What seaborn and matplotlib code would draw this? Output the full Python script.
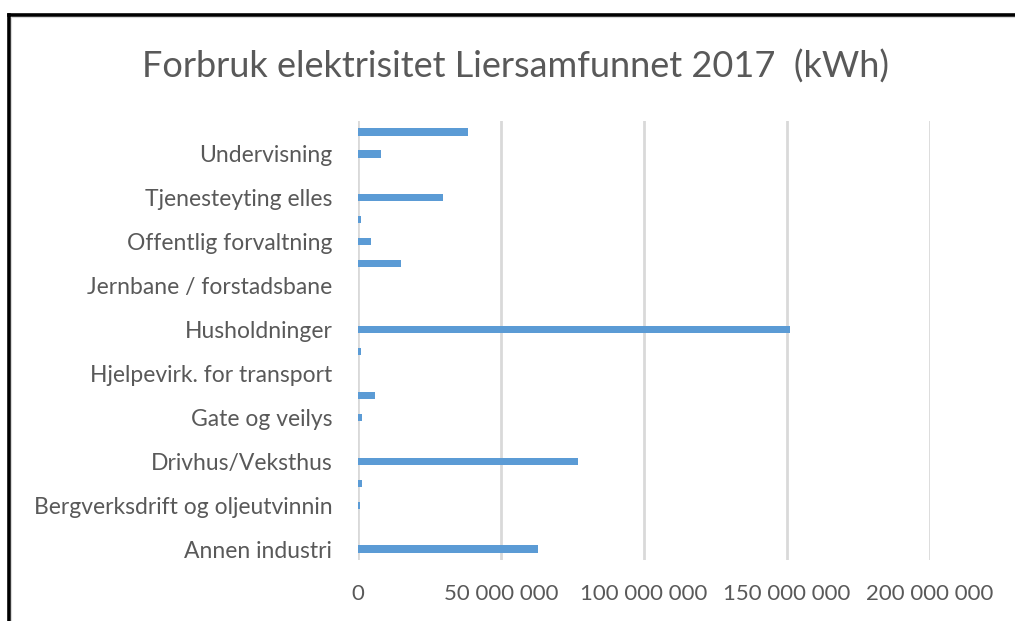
import pandas as pd
import matplotlib.pyplot as plt
import seaborn as sns
from matplotlib.lines import Line2D
from matplotlib.ticker import FuncFormatter

# categories bottom -> top (alphabetical, as in the Excel chart)
categories = ['Annen industri', 'Avløp og renovasjon', 'Bergverksdrift og oljeutvinnin',
              'Bygg og anlegg', 'Drivhus/Veksthus', 'Fiske og havbruk',
              'Gate og veilys', 'Helse- og sosialtjenester', 'Hjelpevirk. for transport',
              'Hotell og restaurant', 'Husholdninger', 'Industri ellers',
              'Jernbane / forstadsbane', 'Jordbruk og skogbruk', 'Offentlig forvaltning',
              'Primærnæringer', 'Tjenesteyting elles', 'Transport',
              'Undervisning', 'Varehandel']
# kWh
forbruk = [62_800_000, 0, 800_000, 1_300_000, 77_000_000, 0,
           1_300_000, 6_000_000, 0, 900_000, 151_000_000, 0,
           0, 15_100_000, 4_700_000, 900_000, 29_700_000, 0,
           7_900_000, 38_500_000]
x_ticks = [0, 50_000_000, 100_000_000, 150_000_000, 200_000_000]

df = pd.DataFrame({'Kategori': categories, 'kWh': forbruk})

txt = '#595959'
plt.rcParams['font.family'] = ['Lato', 'DejaVu Sans']

fig = plt.figure(figsize=(10.15, 6.21), dpi=100)
ax = fig.add_axes([0.3527, 0.0982, 0.5636, 0.7070])

sns.barplot(data=df, y='Kategori', x='kWh', order=categories[::-1],
            color='#5b9bd5', saturation=1, width=0.33, linewidth=0, ax=ax)

ax.set_xlim(0, 200_000_000)
ax.set_xticks(x_ticks)
ax.xaxis.set_major_formatter(FuncFormatter(lambda v, p: f'{int(v):,}'.replace(',', ' ')))
ax.xaxis.grid(True, color='#d9d9d9', linewidth=2)
ax.set_axisbelow(True)

order = categories[::-1]
ax.set_yticks(range(len(order)))
ax.set_yticklabels([c if categories.index(c) % 2 == 0 else '' for c in order])

ax.tick_params(axis='both', length=0, colors=txt, labelsize=16)
ax.tick_params(axis='y', labelsize=16.5, pad=18.5)
ax.tick_params(axis='x', pad=17)
for s in ax.spines.values():
    s.set_visible(False)
ax.set_xlabel('')
ax.set_ylabel('')

fig.text(0.508, 0.893, 'Forbruk elektrisitet Liersamfunnet 2017  (kWh)',
         ha='center', va='center', fontsize=26, color=txt)

# black frame (top and left) like the screenshot
fig.add_artist(Line2D([0.0085, 0.0085], [0, 0.976], color='black', linewidth=2.6))
fig.add_artist(Line2D([0.0085, 1], [0.976, 0.976], color='black', linewidth=2.6))
fig.add_artist(Line2D([0.0113, 0.0113], [0, 0.972], color='#d9d9d9', linewidth=0.8))
fig.add_artist(Line2D([0.0113, 1], [0.972, 0.972], color='#d9d9d9', linewidth=0.8))

fig.savefig('out.png', dpi=100)
